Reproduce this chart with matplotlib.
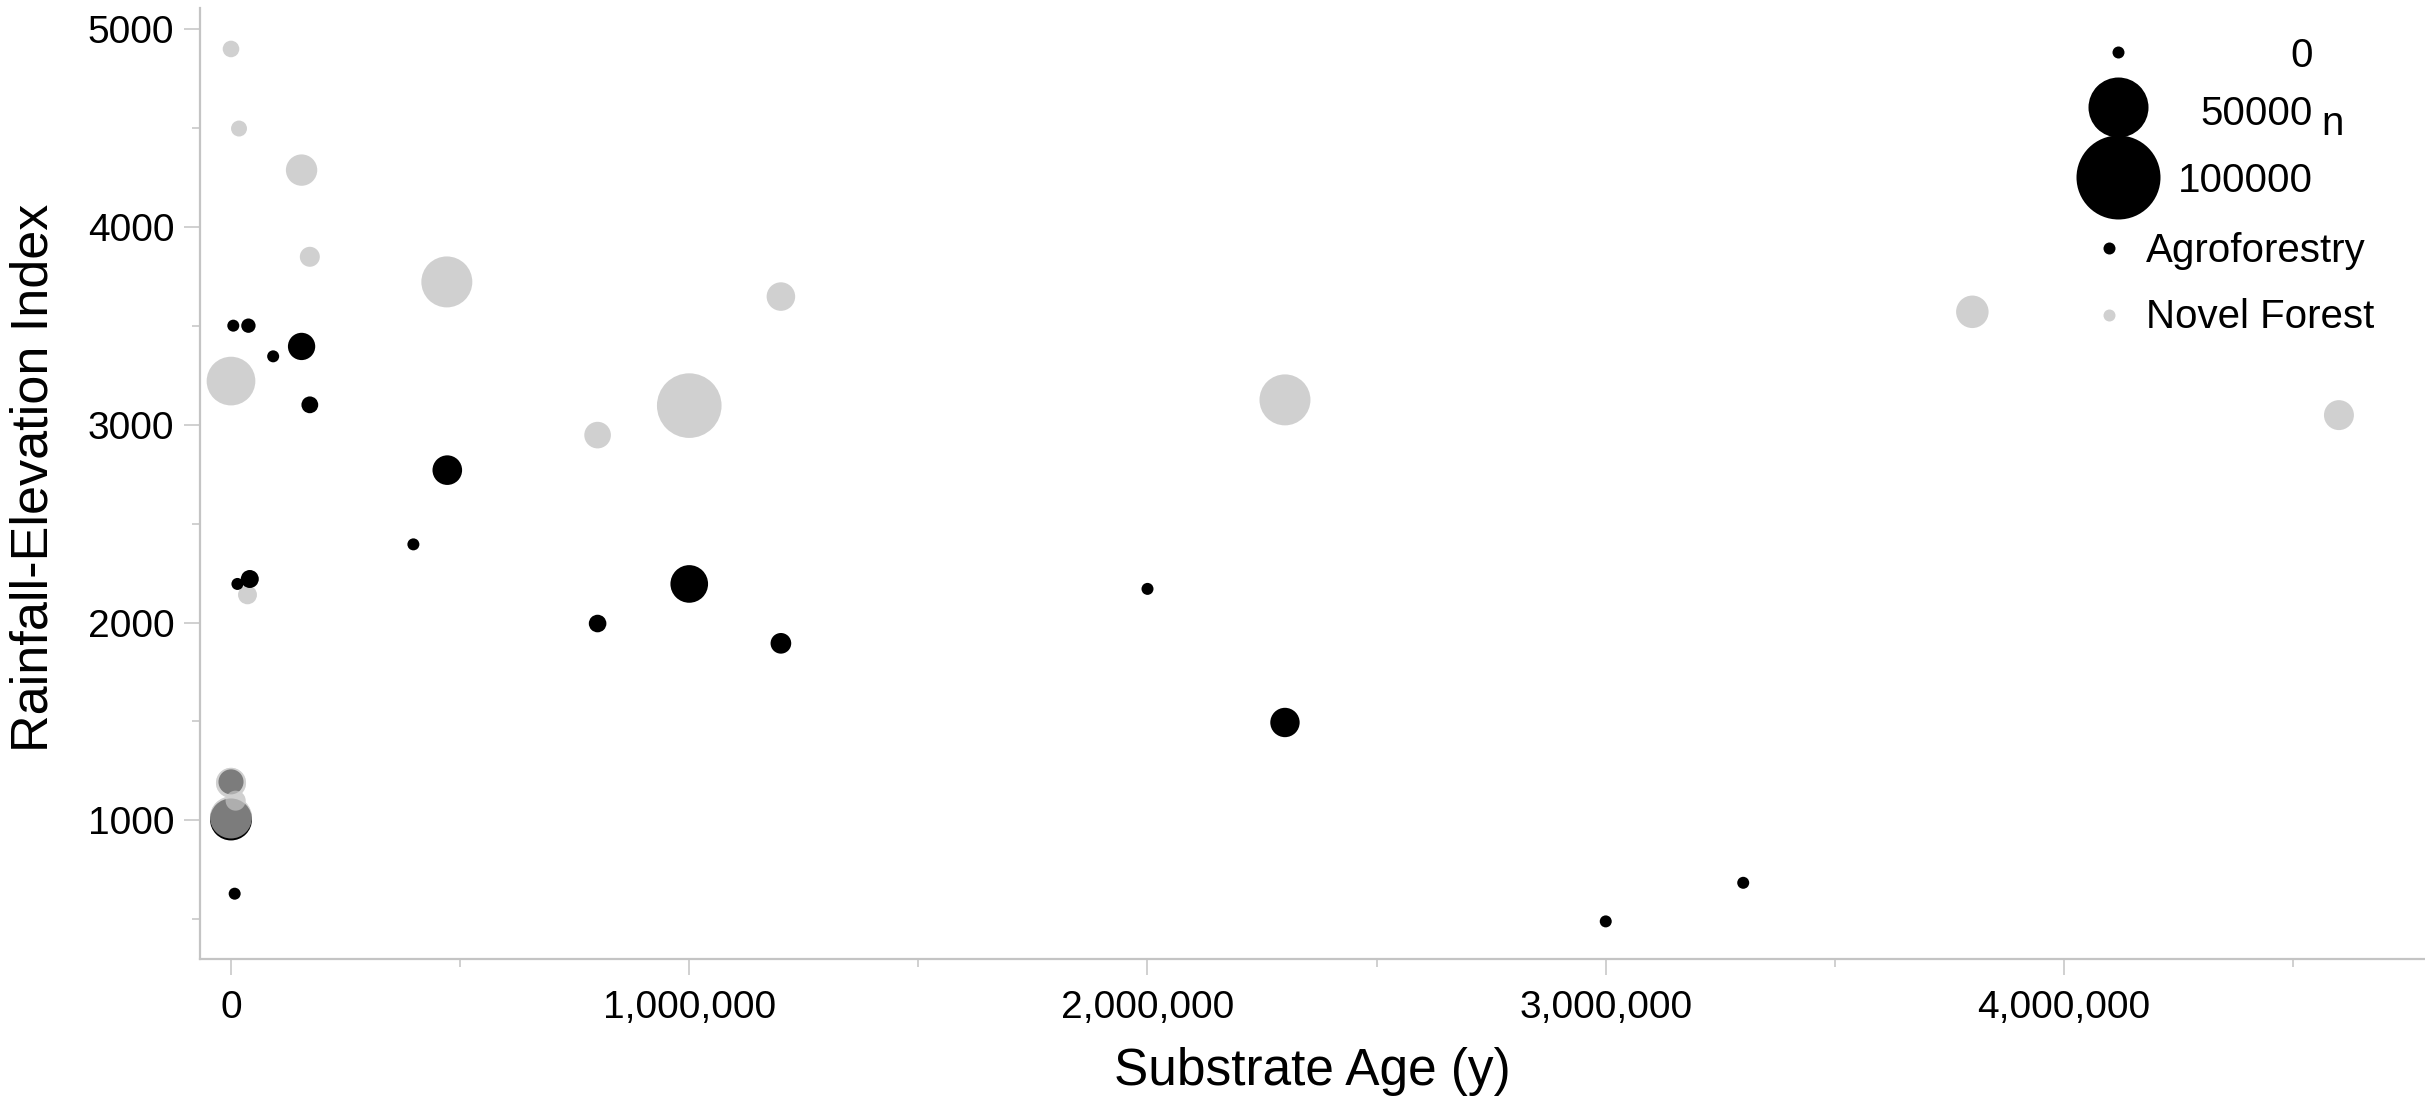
import matplotlib
matplotlib.use("Agg")
import matplotlib.pyplot as plt
import numpy as np
from matplotlib.ticker import FuncFormatter, MultipleLocator, FixedLocator

plt.rcParams['font.family'] = ['Liberation Sans', 'DejaVu Sans']

# ---------------- data ----------------
agro_age = [5000, 38000, 92000, 154000, 172000, 472000, 398000, 41000, 14000,
            1000000, 800000, 1200000, 2000000, 2300000, 3000000, 3300000, 8000,
            0, 0]
agro_rei = [3500, 3500, 3345, 3395, 3100, 2770, 2395, 2220, 2195,
            2195, 1995, 1895, 2170, 1495, 490, 685, 630,
            1005, 1195]
agro_n = [0, 900, 0, 8700, 2000, 10600, 0, 2600, 0,
          18400, 2400, 4100, 0, 10400, 0, 0, 0,
          23400, 7000]

novel_age = [0, 17500, 154000, 172000, 471000, 0, 36000, 1200000, 1000000,
             800000, 2300000, 3800000, 4600000, 0, 0, 10000]
novel_rei = [4898, 4496, 4286, 3848, 3721, 3220, 2140, 3647, 3096,
             2947, 3125, 3570, 3048, 1015, 1190, 1100]
novel_n = [1900, 1600, 12150, 3700, 35500, 32200, 3100, 9700, 58300,
           8160, 35500, 13200, 10900, 23400, 11000, 3700]

size_legend_values = [0, 50000, 100000]
group_labels = ["Agroforestry", "Novel Forest"]
x_major = [0, 1000000, 2000000, 3000000, 4000000]
y_major = [1000, 2000, 3000, 4000, 5000]

# ---------------- styling ----------------
W, H, DPI = 2425, 1105, 100
AGRO_C = "#000000"
NOVEL_C = "#d0d0d0"
AXIS_C = "#c4c4c4"


def size_pts(n):
    n = np.asarray(n, dtype=float)
    r_px = np.sqrt(36.0 + 0.01728 * n)
    return (1.44 * r_px) ** 2


fig = plt.figure(figsize=(W / DPI, H / DPI), dpi=DPI)
ax_left, ax_right, ax_top, ax_bottom = 200, 2425, 8, 959
ax = fig.add_axes([ax_left / W, 1 - ax_bottom / H,
                   (ax_right - ax_left) / W, (ax_bottom - ax_top) / H])

ax.set_xlim(-67650, 4787800)
ax.set_ylim(300, 5105)

agro_age_a = np.array(agro_age); agro_rei_a = np.array(agro_rei)
novel_age_a = np.array(novel_age); novel_rei_a = np.array(novel_rei)
novel_n_a = np.array(novel_n)

ax.scatter(novel_age_a, novel_rei_a, s=size_pts(novel_n), c=NOVEL_C,
           linewidths=0, zorder=2)
ax.scatter(agro_age_a, agro_rei_a, s=size_pts(agro_n), c=AGRO_C,
           linewidths=0, zorder=3)
# overlapping points near the origin are shown blended
ov = (novel_age_a < 30000) & (novel_rei_a < 1300)
ax.scatter(novel_age_a[ov], novel_rei_a[ov], s=size_pts(novel_n_a[ov]),
           c=NOVEL_C, alpha=0.6, linewidths=0, zorder=4)

# spines
for side in ("top", "right"):
    ax.spines[side].set_visible(False)
for side in ("left", "bottom"):
    ax.spines[side].set_color(AXIS_C)
    ax.spines[side].set_linewidth(1.6)

ax.xaxis.set_major_locator(FixedLocator(x_major))
ax.xaxis.set_minor_locator(MultipleLocator(500000))
ax.yaxis.set_major_locator(FixedLocator(y_major))
ax.yaxis.set_minor_locator(MultipleLocator(500))
ax.xaxis.set_major_formatter(FuncFormatter(lambda v, p: f"{int(v):,}"))
ax.yaxis.set_major_formatter(FuncFormatter(lambda v, p: f"{int(v)}"))

ax.tick_params(axis="both", which="major", direction="out", length=11.5,
               width=1.1, color=AXIS_C, labelsize=28, labelcolor="black")
ax.tick_params(axis="y", which="major", pad=7)
ax.tick_params(axis="x", which="major", pad=11)
ax.tick_params(axis="both", which="minor", direction="out", length=5.5,
               width=1.1, color=AXIS_C)

ax.set_xlabel("Substrate Age (y)", fontsize=37, va="center")
ax.xaxis.set_label_coords(0.5, (ax_bottom - 1071) / (ax_bottom - ax_top))
ax.set_ylabel("Rainfall-Elevation Index", fontsize=37.5, va="center")
ax.yaxis.set_label_coords((34 - ax_left) / (ax_right - ax_left),
                          (ax_bottom - 478) / (ax_bottom - ax_top))


# ---------------- legend (manual) ----------------
def fx(px):
    return px / W


def fy(py):
    return 1 - py / H


leg_marker_y = [52, 107, 177]
leg_text_base = [67, 125, 192]
for v, my, ty in zip(size_legend_values, leg_marker_y, leg_text_base):
    ax.scatter([fx(2118)], [fy(my)], s=size_pts([v]), c=AGRO_C, linewidths=0,
               transform=fig.transFigure, clip_on=False, zorder=5)
    fig.text(fx(2313), fy(ty), f"{v}", ha="right", va="baseline", fontsize=29)
fig.text(fx(2321), fy(135), "n", ha="left", va="baseline", fontsize=29)

for lab, col, my, ty in zip(group_labels, [AGRO_C, NOVEL_C], [248, 315], [262, 328]):
    ax.scatter([fx(2109)], [fy(my)], s=size_pts([0]), c=col, linewidths=0,
               transform=fig.transFigure, clip_on=False, zorder=5)
    fig.text(fx(2146), fy(ty), lab, ha="left", va="baseline", fontsize=29)

fig.savefig("out.png", dpi=DPI, facecolor="white")
